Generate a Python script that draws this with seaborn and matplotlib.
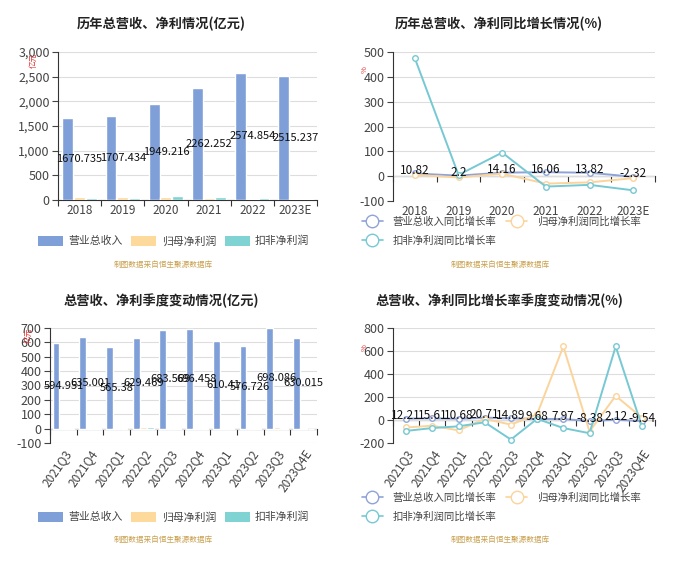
import numpy as np
import pandas as pd
import matplotlib
matplotlib.use('Agg')
import matplotlib.pyplot as plt
from matplotlib.ticker import StrMethodFormatter
from matplotlib.lines import Line2D
from matplotlib.patches import FancyBboxPatch
import seaborn as sns

sns.set_style('white')
plt.rcParams['font.family'] = ['Noto Sans CJK SC', 'DejaVu Sans']
plt.rcParams['axes.unicode_minus'] = False

# 年度データ
years = ['2018', '2019', '2020', '2021', '2022', '2023E']
rev_year = [1670.735, 1707.434, 1949.216, 2262.252, 2574.854, 2515.237]
np_year = [55, 52, 62, 45, 30, 25]
dnp_year = [40, 45, 90, 55, 35, 15]

rev_g_year = [10.82, 2.2, 14.16, 16.06, 13.82, -2.32]
np_g_year = [5, -5, 10, -30, -25, -8]
dnp_g_year = [475, 5, 95, -42, -35, -57]

# 季度データ
quarters = ['2021Q3', '2021Q4', '2022Q1', '2022Q2', '2022Q3',
            '2022Q4', '2023Q1', '2023Q2', '2023Q3', '2023Q4E']
rev_q = [594.951, 635.001, 565.38, 629.469, 683.569,
         696.458, 610.41, 576.726, 698.086, 630.015]
np_q = [3, 2, 3, 12, 2, 3, 3, 2, 8, 3]
dnp_q = [2, 5, 5, 12, 1, 6, 2, 1, 6, 0]

rev_g_q = [12.21, 15.61, 10.68, 20.71, 14.89, 9.68, 7.97, -8.38, 2.12, -9.54]
np_g_q = [-65, -50, -90, 10, -40, 50, 640, -100, 210, 20]
dnp_g_q = [-95, -70, -55, -20, -170, 10, -70, -115, 640, -55]

bar_names = ['营业总收入', '归母净利润', '扣非净利润']
line_names = ['营业总收入同比增长率', '归母净利润同比增长率', '扣非净利润同比增长率']
bar_colors = ['#7f9fd8', '#fdd99b', '#7fd3d3']
line_colors = ['#8fa3d8', '#fbd49b', '#76c9d3']
src_text = '制图数据来自恒生聚源数据库'

W, H = 700, 561
fig = plt.figure(figsize=(7, 5.61), dpi=100)


def fx(x):
    return x / W


def fy(y):
    return 1 - y / H


def rect(x0, x1, ytop, ybot):
    return [fx(x0), fy(ybot), (x1 - x0) / W, (ybot - ytop) / H]


def style_axes(ax):
    sns.despine(ax=ax, top=True, right=True)
    ax.spines['left'].set_color('#333333')
    ax.grid(axis='y', color='#dddddd', linewidth=0.8)
    ax.grid(axis='x', visible=False)
    ax.set_axisbelow(True)
    ax.tick_params(axis='y', labelsize=9, colors='#444444', length=4,
                   left=True, direction='out', pad=2)
    ax.tick_params(axis='x', labelsize=8.5, colors='#444444')
    ax.set_xlabel('')
    ax.set_ylabel('')


def zero_axis(ax, n, ymin, ymax):
    # x軸線をy=0に置き、区切りの目盛りを付ける
    ax.spines['bottom'].set_visible(False)
    ax.tick_params(axis='x', length=0, pad=3)
    frac = (0 - ymin) / (ymax - ymin)
    sec = ax.secondary_xaxis(frac)
    sec.set_xticks(np.arange(n + 1) - 0.5)
    sec.set_xticklabels([])
    sec.tick_params(length=4, direction='out', color='#333333')
    sec.spines['bottom'].set_color('#333333')


def bar_panel(r, cats, vals, ylim, yticks, rot):
    ax = fig.add_axes(r)
    df = pd.DataFrame({'cat': cats * 3,
                       'val': vals[0] + vals[1] + vals[2],
                       'kind': sum([[n] * len(cats) for n in bar_names], [])})
    sns.barplot(data=df, x='cat', y='val', hue='kind', hue_order=bar_names,
                palette=bar_colors, width=0.82, gap=0.08, ax=ax, legend=False,
                saturation=1)
    style_axes(ax)
    ax.set_xlim(-0.5, len(cats) - 0.5)
    ax.set_ylim(*ylim)
    ax.set_yticks(yticks)
    ax.yaxis.set_major_formatter(StrMethodFormatter('{x:,.0f}'))
    zero_axis(ax, len(cats), *ylim)
    if rot:
        ax.set_xticks(range(len(cats)))
        ax.set_xticklabels(cats, rotation=55, ha='right', rotation_mode='anchor')
    for i, v in enumerate(vals[0]):
        ax.text(i, v / 2, str(v), ha='center', va='center', fontsize=8,
                color='#111111')
    return ax


def line_panel(r, cats, vals, ylim, yticks, rot):
    ax = fig.add_axes(r)
    for v, c in zip(vals, line_colors):
        sns.lineplot(x=list(range(len(cats))), y=v, ax=ax, color=c,
                     marker='o', markersize=4, markerfacecolor='white',
                     markeredgecolor=c, markeredgewidth=1, linewidth=1.4)
    style_axes(ax)
    ax.set_xlim(-0.5, len(cats) - 0.5)
    ax.set_ylim(*ylim)
    ax.set_yticks(yticks)
    ax.set_xticks(range(len(cats)))
    if rot:
        ax.set_xticklabels(cats, rotation=55, ha='right', rotation_mode='anchor')
    else:
        ax.set_xticklabels(cats)
    zero_axis(ax, len(cats), *ylim)
    for i, v in enumerate(vals[0]):
        ax.annotate(f'{v:g}', (i, v), xytext=(0, 2), textcoords='offset points',
                    ha='center', va='center', fontsize=8.5, color='#111111')
    return ax


def bar_legend(x, y):
    handles = [FancyBboxPatch((0, 0), 1, 1, boxstyle='round,pad=0.1',
                              facecolor=c, edgecolor='none') for c in bar_colors]
    fig.legend(handles, bar_names, loc='center left',
               bbox_to_anchor=(fx(x), fy(y)), ncol=3, frameon=False,
               fontsize=7.8, handlelength=2.3, handleheight=1.1,
               handletextpad=0.5, columnspacing=0.8, borderpad=0,
               borderaxespad=0, labelcolor='#444444')


def line_legend(x, y):
    handles = [Line2D([0], [0], color=c, linewidth=1.2, marker='o',
                      markersize=9, markerfacecolor='white', markeredgecolor=c)
               for c in line_colors]
    order = [0, 2, 1]
    fig.legend([handles[i] for i in order], [line_names[i] for i in order],
               loc='upper left', bbox_to_anchor=(fx(x), fy(y)), ncol=2,
               frameon=False, fontsize=7.5, handlelength=2.0,
               handletextpad=0.9, columnspacing=1.0, labelspacing=0.9,
               borderpad=0, borderaxespad=0, labelcolor='#444444')


def title(x, y, s):
    fig.text(fx(x), fy(y), s, fontsize=9.5, fontweight='bold',
             color='#222222', ha='center', va='center')


def unit(x, y, s):
    fig.text(fx(x), fy(y), s, fontsize=5.5, color='#e03030', rotation=90,
             ha='center', va='top')


ax1 = bar_panel(rect(58, 317, 52, 200), years, [rev_year, np_year, dnp_year],
                (0, 3000), range(0, 3001, 500), False)
title(161, 24, '历年总营收、净利情况(亿元)')
unit(34, 53, '亿元')
bar_legend(38, 241)

ax2 = line_panel(rect(393, 655, 52, 201), years,
                 [rev_g_year, np_g_year, dnp_g_year], (-100, 500),
                 range(-100, 501, 100), False)
title(499, 24, '历年总营收、净利同比增长情况(%)')
unit(365, 66, '%')
line_legend(362, 216)

ax3 = bar_panel(rect(50, 317, 328, 443), quarters, [rev_q, np_q, dnp_q],
                (-100, 700), range(-100, 701, 100), True)
title(161, 301, '总营收、净利季度变动情况(亿元)')
unit(29, 328, '亿元')
bar_legend(38, 517)

ax4 = line_panel(rect(393, 655, 328, 443), quarters, [rev_g_q, np_g_q, dnp_g_q],
                 (-200, 800), range(-200, 801, 200), True)
title(499, 301, '总营收、净利同比增长率季度变动情况(%)')
unit(365, 344, '%')
line_legend(362, 492)

for x, y in [(163, 265), (500, 265), (163, 540), (500, 540)]:
    fig.text(fx(x), fy(y), src_text, fontsize=5.5, color='#c9a04e',
             ha='center', va='center')

fig.savefig('out.png', dpi=100)
